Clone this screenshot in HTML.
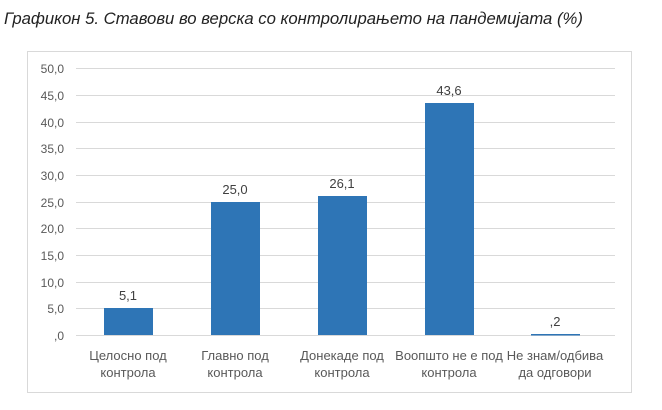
<!DOCTYPE html>
<html><head><meta charset="utf-8"><style>
body{margin:0;background:#fff;width:662px;height:405px;overflow:hidden}
</style></head><body>
<svg width="662" height="405" xmlns="http://www.w3.org/2000/svg" font-family="Liberation Sans, sans-serif">
<text x="4" y="24" font-size="16.7" font-style="italic" fill="#222">Графикон 5. Ставови во верска со контролирањето на пандемијата (%)</text>
<rect x="27.5" y="51.5" width="604" height="341" fill="#fff" stroke="#d9d9d9" stroke-width="1"/>
<g stroke="#d9d9d9" stroke-width="1">
<line x1="76" x2="615" y1="68.5" y2="68.5"/><line x1="76" x2="615" y1="95.5" y2="95.5"/>
<line x1="76" x2="615" y1="122.5" y2="122.5"/><line x1="76" x2="615" y1="148.5" y2="148.5"/>
<line x1="76" x2="615" y1="175.5" y2="175.5"/><line x1="76" x2="615" y1="202.5" y2="202.5"/>
<line x1="76" x2="615" y1="228.5" y2="228.5"/><line x1="76" x2="615" y1="255.5" y2="255.5"/>
<line x1="76" x2="615" y1="282.5" y2="282.5"/><line x1="76" x2="615" y1="308.5" y2="308.5"/>
<line x1="76" x2="615" y1="335.5" y2="335.5"/>
</g>
<g font-size="12" fill="#595959" text-anchor="end">
<text x="64" y="73">50,0</text><text x="64" y="100">45,0</text><text x="64" y="127">40,0</text>
<text x="64" y="153">35,0</text><text x="64" y="180">30,0</text><text x="64" y="207">25,0</text>
<text x="64" y="233">20,0</text><text x="64" y="260">15,0</text><text x="64" y="287">10,0</text>
<text x="64" y="313">5,0</text><text x="64" y="340">,0</text>
</g>
<g fill="#2e75b6">
<rect x="104" y="308" width="49" height="27"/>
<rect x="211" y="202" width="49" height="133"/>
<rect x="318" y="196" width="49" height="139"/>
<rect x="425" y="103" width="49" height="232"/>
<rect x="531" y="334" width="49" height="1.5"/>
</g>
<g font-size="13" fill="#404040" text-anchor="middle">
<text x="128" y="300">5,1</text><text x="235" y="194">25,0</text><text x="342" y="188">26,1</text>
<text x="449" y="95">43,6</text><text x="555" y="326">,2</text>
</g>
<g font-size="13" fill="#595959" text-anchor="middle">
<text x="128" y="360">Целосно под</text><text x="128" y="377">контрола</text>
<text x="235" y="360">Главно под</text><text x="235" y="377">контрола</text>
<text x="342" y="360">Донекаде под</text><text x="342" y="377">контрола</text>
<text x="449" y="360">Воопшто не е под</text><text x="449" y="377">контрола</text>
<text x="555" y="360">Не знам/одбива</text><text x="555" y="377">да одговори</text>
</g>
</svg>
</body></html>
